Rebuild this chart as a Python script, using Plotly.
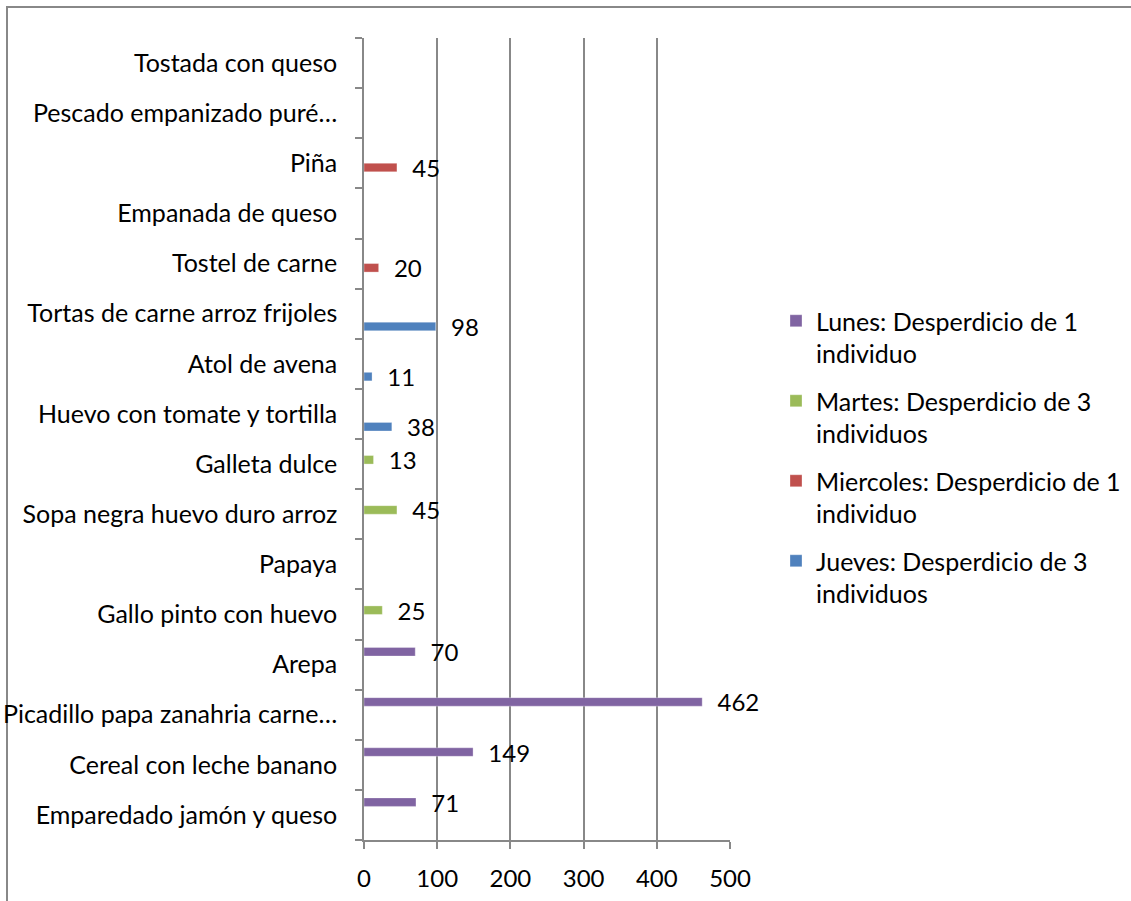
import plotly.graph_objects as go

# Food items, listed bottom to top
categories = [
    "Emparedado jamón y queso",
    "Cereal con leche banano",
    "Picadillo papa zanahria carne…",
    "Arepa",
    "Gallo pinto con huevo",
    "Papaya",
    "Sopa negra huevo duro arroz",
    "Galleta dulce",
    "Huevo con tomate y tortilla",
    "Atol de avena",
    "Tortas de carne arroz frijoles",
    "Tostel de carne",
    "Empanada de queso",
    "Piña",
    "Pescado empanizado puré…",
    "Tostada con queso",
]

lunes = [71, 149, 462, 70, None, None, None, None, None, None, None, None, None, None, None, None]
martes = [None, None, None, None, 25, None, 45, 13, None, None, None, None, None, None, None, None]
miercoles = [None, None, None, None, None, None, None, None, None, None, None, 20, None, 45, None, None]
jueves = [None, None, None, None, None, None, None, None, 38, 11, 98, None, None, None, None, None]

series_names = [
    "Lunes: Desperdicio de 1<br>individuo",
    "Martes: Desperdicio de 3<br>individuos",
    "Miercoles: Desperdicio de 1<br>individuo",
    "Jueves: Desperdicio de 3<br>individuos",
]
series_values = [lunes, martes, miercoles, jueves]
series_colors = ["#8064A2", "#9BBB59", "#C0504D", "#4F81BD"]

x_ticks = [0, 100, 200, 300, 400, 500]

FONT = "Lato"
GRID = "#888888"

fig = go.Figure()
series = list(enumerate(zip(series_names, series_values, series_colors)))
# Added in reverse so the first series sits at the top of each group
for rank, (name, vals, color) in reversed(series):
    labels = ["\u00a0\u00a0" + str(v) if v is not None else "" for v in vals]
    fig.add_trace(go.Bar(
        y=categories,
        x=vals,
        orientation="h",
        name=name,
        legendgroup=name,
        legendrank=rank + 1,
        marker=dict(color=color, line=dict(color="rgba(255,255,255,0.6)", width=0.5)),
        text=labels,
        textposition="outside",
        constraintext="none",
        cliponaxis=False,
        textfont=dict(family=FONT, size=24, color="black"),
    ))

L, T, W, H = 364, 38, 366, 802
def px_x(p):
    return (p - L) / W
def px_y(p):
    return (T + H - p) / H

fig.update_layout(
    width=1131,
    height=901,
    margin=dict(l=L, r=1131 - L - W, t=T, b=901 - T - H, pad=0, autoexpand=False),
    paper_bgcolor="white",
    plot_bgcolor="white",
    barmode="group",
    bargap=0.32,
    bargroupgap=0,
    font=dict(family=FONT, size=25, color="black"),
    showlegend=True,
    legend=dict(
        x=px_x(776), y=px_y(298), xanchor="left", yanchor="top",
        traceorder="grouped",
        tracegroupgap=12,
        valign="top",
        font=dict(family=FONT, size=25, color="black"),
        itemwidth=30,
        bgcolor="rgba(0,0,0,0)",
    ),
    xaxis=dict(
        range=[0, 500],
        tickvals=x_ticks,
        ticktext=[str(t) for t in x_ticks],
        showgrid=True, gridcolor=GRID, gridwidth=1.5,
        showline=True, linecolor=GRID, linewidth=1.5,
        ticks="outside", ticklen=7, tickcolor=GRID, tickwidth=1.5,
        zeroline=False,
        ticklabelstandoff=9,
        tickfont=dict(family=FONT, size=24, color="black"),
    ),
    yaxis=dict(
        type="category",
        categoryorder="array",
        categoryarray=categories,
        showgrid=False,
        showline=True, linecolor=GRID, linewidth=1.5,
        ticks="outside", ticklen=7, tickcolor=GRID, tickwidth=1.5,
        tickson="boundaries",
        ticklabelstandoff=20,
        tickfont=dict(family=FONT, size=25, color="black"),
        zeroline=False,
    ),
    shapes=[dict(
        type="rect", xref="paper", yref="paper",
        x0=px_x(7), x1=px_x(1145), y0=px_y(7), y1=px_y(915),
        line=dict(color="#888888", width=2),
        fillcolor="rgba(0,0,0,0)",
        layer="below",
    )],
)

fig.write_html("out.html")
